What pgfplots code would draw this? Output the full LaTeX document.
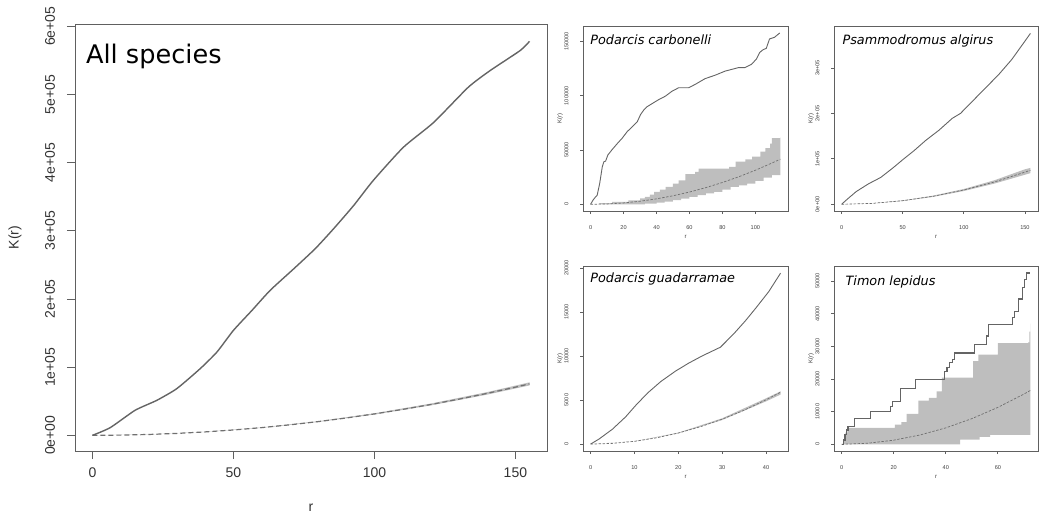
\documentclass[border=0pt]{standalone}
\usepackage{fontspec}
\setmainfont{Liberation Sans}
\newfontfamily\tfont{DejaVu Sans}
\usepackage{pgfplots}
\pgfplotsset{compat=1.18}
\usepgfplotslibrary{fillbetween}

\definecolor{obs}{HTML}{646464}
\definecolor{frame}{HTML}{606060}
\definecolor{band}{HTML}{BEBEBE}
\definecolor{theo}{HTML}{707070}

\tikzset{ttl/.style={anchor=base west, inner sep=0pt, font=\tfont\itshape\fontsize{6.4}{7}\selectfont}}

\pgfplotsset{
  kbase/.style={scale only axis, anchor=south west, scaled ticks=false,
    axis line style={draw=frame, line width=0.5pt},
    tick align=outside, xtick pos=left, ytick pos=left,
    tick style={draw=frame, line width=0.4pt},
    yticklabel style={rotate=90, anchor=south},
    xticklabel style={anchor=north}},
  small/.style={kbase, width=102.5pt, height=92.5pt,
    major tick length=1.5pt,
    ticklabel style={font=\fontsize{2.8}{3.2}\selectfont, text=black!75},
    xticklabel shift=2pt, yticklabel shift=2.3pt,
    xlabel={r}, ylabel={K(r)},
    label style={font=\fontsize{3}{3.5}\selectfont, text=black!75},
    xlabel style={at={(axis description cs:0.5,-0.14)}, anchor=center},
    ylabel style={at={(axis description cs:-0.112,0.5)}, anchor=center}},
  obsl/.style={obs, line width=0.45pt},
  theol/.style={theo, line width=0.35pt, dash pattern=on 1.2pt off 0.8pt}
}

\begin{document}
\begin{tikzpicture}
\path (0,0) rectangle (519.5pt,258pt);

% All species
\begin{axis}[kbase, at={(37.5pt,32.5pt)}, width=236pt, height=213.5pt,
  xmin=-6.2, xmax=161.2, ymin=-23200, ymax=603200,
  major tick length=4pt,
  xtick={0,50,100,150}, xticklabels={0,50,100,150},
  ytick={0,100000,200000,300000,400000,500000,600000},
  yticklabels={0e+00,1e+05,2e+05,3e+05,4e+05,5e+05,6e+05},
  ticklabel style={font=\fontsize{7}{8}\selectfont, text=black!80},
  xticklabel shift=0.9pt, yticklabel shift=2.4pt,
  xlabel={r}, ylabel={K(r)},
  label style={font=\fontsize{7}{8}\selectfont, text=black!80},
  xlabel style={at={(axis description cs:0.5,-0.1335)}, anchor=center},
  ylabel style={at={(axis description cs:-0.127,0.5)}, anchor=center}]
\addplot[name path=hi, draw=none] coordinates {(0,0) (20,1300) (40,5180) (60,11650) (80,20710) (100,32360) (120,46600) (140,63420) (155,77740)};
\addplot[name path=lo, draw=none] coordinates {(0,0) (20,1220) (40,4880) (60,10970) (80,19500) (100,30470) (120,43880) (140,59730) (155,73210)};
\addplot[band] fill between[of=hi and lo];
\addplot[theol, line width=0.6pt, dash pattern=on 2.5pt off 1.5pt] coordinates {(0,0) (10,314) (20,1257) (30,2827) (40,5027) (50,7854) (60,11310) (70,15394) (80,20106) (90,25447) (100,31416) (110,38013) (120,45239) (130,53093) (140,61575) (150,70686) (155,75477)};
\addplot[obs, line width=0.7pt, smooth, tension=0.35] coordinates {(0,0) (6.3,11300) (15.1,36700) (22.8,51300) (29.9,68500) (38.2,97800) (44.1,122000) (50,154000) (56.5,183000) (63,212600) (71.3,244000) (79,273800) (85.5,303000) (92.6,337000) (99.6,374000) (110.3,422700) (121,459000) (133.3,510700) (141,535000) (151.7,564500) (155,578000)};
\node[anchor=base west, inner sep=0pt, font=\tfont\fontsize{12.8}{14}\selectfont] at (axis cs:-2.4,546000) {All species};
\end{axis}

% Podarcis carbonelli
\begin{axis}[small, at={(291.5pt,152.5pt)},
  xmin=-4.6, xmax=119.8, ymin=-6300, ymax=164300,
  xtick={0,20,40,60,80,100}, xticklabels={0,20,40,60,80,100},
  ytick={0,50000,100000,150000}, yticklabels={0,50000,100000,150000}]
\addplot[name path=hi, draw=none, const plot] coordinates {(0,0) (5,1000) (13,2200) (23,3700) (30,5500) (33,6800) (36,9000) (38.5,11400) (42,13500) (45.5,16000) (50,19000) (53.5,22000) (57.5,27800) (63.5,30000) (65.5,33000) (80,33000) (84,34600) (88,39300) (94,41400) (98,43900) (103,48500) (106,51700) (109,56000) (110,61000) (115.2,62000)};
\addplot[name path=lo, draw=none, const plot] coordinates {(0,0) (25,0) (33,600) (40,1500) (45,2500) (50,3800) (55,5300) (60,6800) (65,8400) (70,10000) (75,11400) (80,13500) (85,16000) (90,17500) (95,19000) (100,21500) (105,24500) (110,27000) (115.2,27000)};
\addplot[band] fill between[of=hi and lo];
\addplot[theol] coordinates {(0,0) (10,314) (20,1257) (30,2827) (40,5027) (50,7854) (60,11310) (70,15394) (80,20106) (90,25447) (100,31416) (110,38013) (115.2,41691)};
\addplot[obsl] coordinates {(0,0) (1.4,3700) (3,6800) (4,8400) (5.5,19000) (7.1,34600) (8.1,39300) (9.1,39800) (10.5,45500) (13.1,50500) (16.2,56000) (19.2,61000) (22.2,67000) (25.3,71500) (28.3,76000) (30.3,82700) (32.3,87000) (34.3,90000) (37.5,93000) (41.5,96700) (45.5,99800) (49.5,104400) (53.5,107500) (59.5,107500) (63.5,110600) (69.5,115900) (75.5,119000) (81.6,122800) (89.6,126000) (93.6,126000) (97.6,129000) (100.6,133900) (102.6,140000) (104.6,142500) (106.6,143800) (108.6,152500) (111.6,154000) (114.8,158000)};
\node[ttl] at (rel axis cs:0.034,0.903) {Podarcis carbonelli};
\end{axis}

% Psammodromus algirus
\begin{axis}[small, at={(417pt,152.5pt)}, width=102pt,
  xmin=-6.2, xmax=160.7, ymin=-15100, ymax=392000,
  xtick={0,50,100,150}, xticklabels={0,50,100,150},
  ytick={0,100000,200000,300000}, yticklabels={0e+00,1e+05,2e+05,3e+05}]
\addplot[name path=hi, draw=none] coordinates {(0,0) (25,2150) (50,8500) (75,19000) (100,33600) (125,52800) (150,77000) (154.5,80000)};
\addplot[name path=lo, draw=none] coordinates {(0,0) (25,1800) (50,7250) (75,16300) (100,29200) (125,45500) (150,65000) (154.5,68500)};
\addplot[band] fill between[of=hi and lo];
\addplot[theol] coordinates {(0,0) (25,1963) (50,7854) (75,17671) (100,31416) (125,49087) (150,70686) (154.5,74990)};
\addplot[obsl] coordinates {(0,0) (5,12000) (12,28000) (22,45000) (32,59000) (42,80000) (50,98000) (59.5,118500) (68.9,140700) (79.7,163000) (90.5,189000) (97.3,200000) (106.8,226000) (117.6,255600) (128.4,285000) (139.2,318500) (150,359000) (154.5,376000)};
\node[ttl] at (rel axis cs:0.04,0.903) {Psammodromus algirus};
\end{axis}

% Podarcis guadarramae
\begin{axis}[small, at={(291.5pt,32.5pt)},
  xmin=-1.73, xmax=45.0, ymin=-800, ymax=20200,
  xtick={0,10,20,30,40}, xticklabels={0,10,20,30,40},
  ytick={0,5000,10000,15000,20000}, yticklabels={0,5000,10000,15000,20000}]
\addplot[name path=hi, draw=none] coordinates {(0,0) (10,325) (20,1300) (30,2930) (40,5200) (43.3,5990)};
\addplot[name path=lo, draw=none] coordinates {(0,0) (10,305) (20,1215) (30,2730) (40,4850) (43.3,5620)};
\addplot[band] fill between[of=hi and lo];
\addplot[theol] coordinates {(0,0) (5,79) (10,314) (15,707) (20,1257) (25,1963) (30,2827) (35,3848) (40,5027) (43.3,5890)};
\addplot[obsl] coordinates {(0,0) (2,600) (5,1700) (8,3100) (10.3,4400) (13,5800) (16,7100) (19.4,8300) (22.4,9200) (25.4,10000) (29.6,11000) (32.6,12500) (35.3,14000) (37.6,15400) (40.6,17300) (43.3,19400)};
\node[ttl] at (rel axis cs:0.034,0.91) {Podarcis guadarramae};
\end{axis}

% Timon lepidus
\begin{axis}[small, at={(417pt,32.5pt)}, width=102pt,
  xmin=-2.9, xmax=75.4, ymin=-2100, ymax=54600,
  xtick={0,20,40,60}, xticklabels={0,20,40,60},
  ytick={0,10000,20000,30000,40000,50000}, yticklabels={0,10000,20000,30000,40000,50000}]
\addplot[name path=hi, draw=none, const plot] coordinates {(0,0) (0.7,1500) (1.5,3600) (2.2,5000) (19,5000) (20.5,6000) (23,6800) (25,9300) (29.5,13400) (33.5,14200) (36.5,16200) (38.5,20400) (50.5,25500) (52.5,27500) (60,31000) (71.6,31200) (72.1,34500) (72.5,37000)};
\addplot[name path=lo, draw=none, const plot] coordinates {(0,0) (45.5,1400) (53,2300) (57,2900) (72.5,2900)};
\addplot[band] fill between[of=hi and lo];
\addplot[theol] coordinates {(0,0) (10,314) (20,1257) (30,2827) (40,5027) (50,7854) (60,11310) (70,15394) (72.5,16513)};
\addplot[obs, line width=0.6pt, const plot] coordinates {(0,0) (0.8,1300) (1.3,2900) (1.8,4400) (2.5,5400) (5,8000) (11,10000) (18.7,11500) (19.5,13100) (22.5,17000) (28.5,19800) (39.5,22400) (40.5,23500) (41.5,25000) (42.5,26000) (43.5,28000) (51,30500) (55.5,33200) (56.5,36800) (65.5,38800) (66.5,40800) (68,44500) (69.5,48000) (70.2,50500) (71,52500) (72.5,52500)};
\node[ttl] at (rel axis cs:0.055,0.897) {Timon lepidus};
\end{axis}
\end{tikzpicture}
\end{document}
